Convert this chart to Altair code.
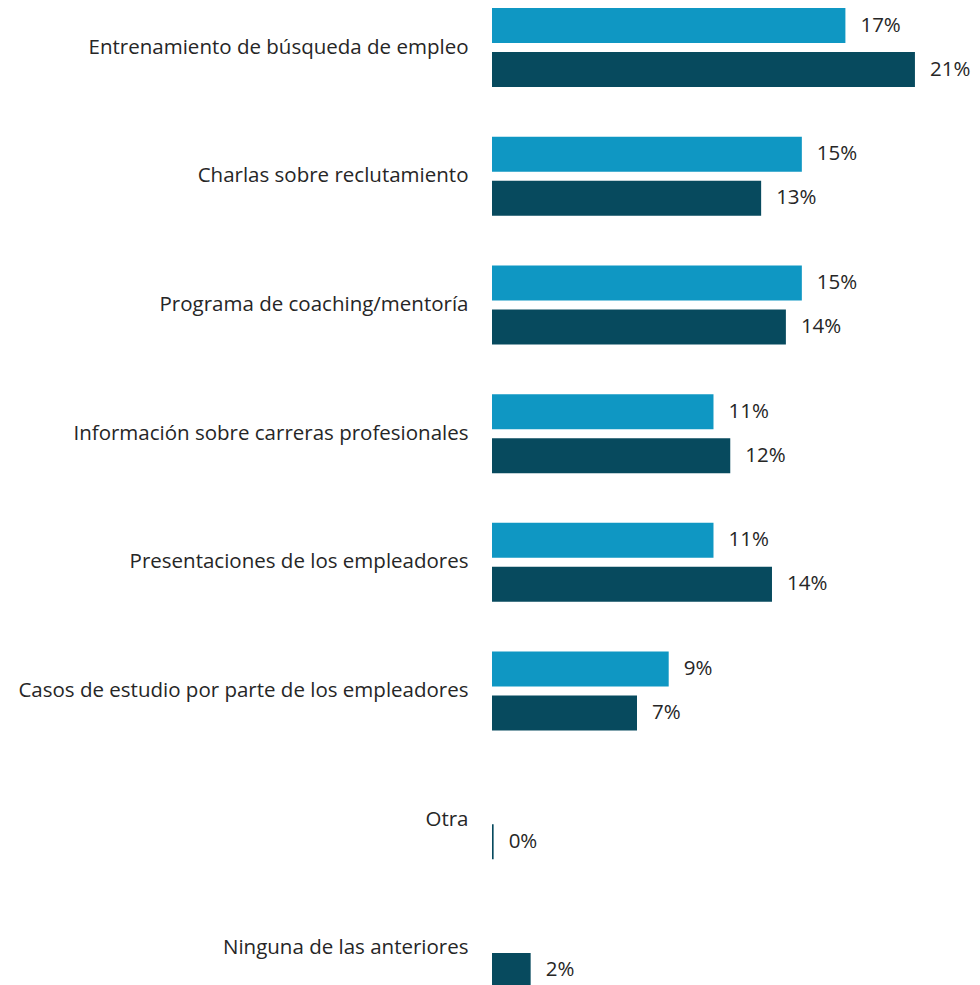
import altair as alt
import pandas as pd

categories = [
    "Entrenamiento de búsqueda de empleo",
    "Charlas sobre reclutamiento",
    "Programa de coaching/mentoría",
    "Información sobre carreras profesionales",
    "Presentaciones de los empleadores",
    "Casos de estudio por parte de los empleadores",
    "Otra",
    "Ninguna de las anteriores",
]
series_names = ["Serie A", "Serie B"]
values_a = [0.1728, 0.1515, 0.1515, 0.1083, 0.1083, 0.0864, None, None]
values_b = [0.2068, 0.1316, 0.1437, 0.1165, 0.1369, 0.0709, 0.0008, 0.0189]
colors = ["#0F97C3", "#074A5E"]

rows = []
for c, a, b in zip(categories, values_a, values_b):
    if a is not None:
        rows.append({"cat": c, "serie": series_names[0], "val": a})
    if b is not None:
        rows.append({"cat": c, "serie": series_names[1], "val": b})
df = pd.DataFrame(rows)

FONT = "Open Sans"
FS = 20.5

y = alt.Y("cat:N", sort=categories,
          scale=alt.Scale(paddingInner=0.386, paddingOuter=0),
          axis=alt.Axis(title=None, domain=False, ticks=False, grid=False,
                        labelAlign="right", labelPadding=24, labelFont=FONT,
                        labelFontSize=FS, labelColor="#262626", labelLimit=700,
                        labelFontWeight="normal"))
yoff = alt.YOffset("serie:N", sort=series_names,
                   scale=alt.Scale(paddingInner=0.2045, paddingOuter=0))
x = alt.X("val:Q", scale=alt.Scale(domain=[0, 0.2347], nice=False, zero=True),
          axis=None)

base = alt.Chart(df).encode(y=y, yOffset=yoff, x=x)

bars = base.mark_bar().encode(
    color=alt.Color("serie:N", sort=series_names,
                    scale=alt.Scale(domain=series_names, range=colors), legend=None)
)
labels = base.mark_text(align="left", baseline="middle", dx=15, font=FONT,
                        fontSize=FS, color="#262626").encode(
    text=alt.Text("val:Q", format=".0%")
)

chart = (bars + labels).properties(
    width=480, height=980,
    background="white",
    autosize=alt.AutoSizeParams(type="none"),
    padding={"left": 484, "top": 0, "right": 0, "bottom": 0},
).configure_view(strokeWidth=0).configure_axis(
    domain=False, grid=False, ticks=False
)

chart.save("out.html", embed_options={"renderer": "svg", "actions": False})
